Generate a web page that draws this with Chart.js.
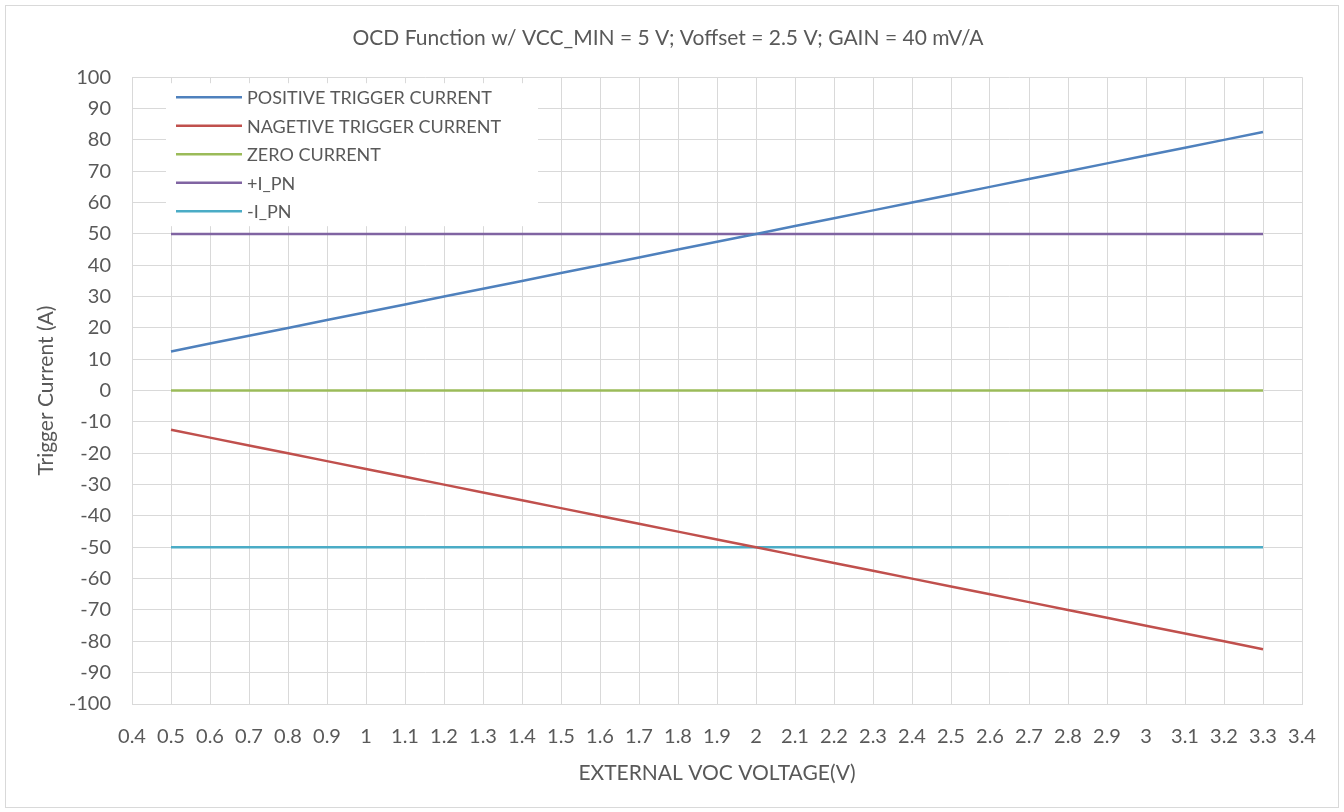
<!DOCTYPE html>
<html>
<head>
<meta charset="utf-8">
<script src="https://cdn.jsdelivr.net/npm/chart.js@4.4.1/dist/chart.umd.min.js"></script>
<style>
  body { margin: 0; background: #fff; }
  #wrap { width: 1344px; height: 812px; }
</style>
</head>
<body>
<div id="wrap"><canvas id="myChart" width="1344" height="812"></canvas></div>
<script>
// x axis categories (V)
let voltages = ['0.4','0.5','0.6','0.7','0.8','0.9','1','1.1','1.2','1.3','1.4','1.5','1.6','1.7','1.8','1.9',
                '2','2.1','2.2','2.3','2.4','2.5','2.6','2.7','2.8','2.9','3','3.1','3.2','3.3','3.4']

// trigger current (A), null where no point was plotted
let positive = [null, 12.5, 15, 17.5, 20, 22.5, 25, 27.5, 30, 32.5, 35, 37.5, 40, 42.5, 45, 47.5,
                50, 52.5, 55, 57.5, 60, 62.5, 65, 67.5, 70, 72.5, 75, 77.5, 80, 82.5, null]
let negative = [null, -12.5, -15, -17.5, -20, -22.5, -25, -27.5, -30, -32.5, -35, -37.5, -40, -42.5, -45, -47.5,
                -50, -52.5, -55, -57.5, -60, -62.5, -65, -67.5, -70, -72.5, -75, -77.5, -80, -82.5, null]
let zero = [null, 0, 0, 0, 0, 0, 0, 0, 0, 0, 0, 0, 0, 0, 0, 0,
            0, 0, 0, 0, 0, 0, 0, 0, 0, 0, 0, 0, 0, 0, null]
let plusIpn = [null, 50, 50, 50, 50, 50, 50, 50, 50, 50, 50, 50, 50, 50, 50, 50,
               50, 50, 50, 50, 50, 50, 50, 50, 50, 50, 50, 50, 50, 50, null]
let minusIpn = [null, -50, -50, -50, -50, -50, -50, -50, -50, -50, -50, -50, -50, -50, -50, -50,
                -50, -50, -50, -50, -50, -50, -50, -50, -50, -50, -50, -50, -50, -50, null]

let seriesNames = ['POSITIVE TRIGGER CURRENT', 'NAGETIVE TRIGGER CURRENT', 'ZERO CURRENT', '+I_PN', '-I_PN']
let seriesColors = ['#4f81bd', '#c0504d', '#9bbb59', '#8064a2', '#4bacc6']

let textColor = '#595959'
let fontName = 'Lato, "Open Sans", sans-serif'

// white frame with thin grey border like the excel chart
const frame = {
    id: 'frame',
    beforeDraw(chart) {
        let ctx = chart.ctx
        ctx.save()
        ctx.fillStyle = '#fff'
        ctx.fillRect(0, 0, chart.width, chart.height)
        ctx.strokeStyle = '#d9d9d9'
        ctx.lineWidth = 1
        ctx.strokeRect(5.5, 5.5, chart.width - 11, chart.height - 10)
        ctx.restore()
    }
}

// legend sits inside the plot area, top left
const innerLegend = {
    id: 'innerLegend',
    afterDatasetsDraw(chart) {
        let ctx = chart.ctx
        let area = chart.chartArea
        let x0 = area.left + 34
        let y0 = area.top + 6
        ctx.save()
        ctx.fillStyle = '#fff'
        ctx.fillRect(x0, y0, 372, 143)
        ctx.font = '18px ' + fontName
        ctx.textBaseline = 'middle'
        chart.data.datasets.forEach(function (ds, i) {
            let y = y0 + 14 + i * 28.5
            ctx.strokeStyle = ds.borderColor
            ctx.lineWidth = 2.5
            ctx.beginPath()
            ctx.moveTo(x0 + 10, y)
            ctx.lineTo(x0 + 76, y)
            ctx.stroke()
            ctx.fillStyle = textColor
            ctx.fillText(ds.label, x0 + 81, y + 1)
        })
        ctx.restore()
    }
}

let datasets = [positive, negative, zero, plusIpn, minusIpn].map(function (vals, i) {
    return {
        label: seriesNames[i],
        data: vals,
        borderColor: seriesColors[i],
        backgroundColor: seriesColors[i],
        borderWidth: 2.5,
        pointRadius: 0,
        tension: 0,
        spanGaps: false
    }
})

let myChart = new Chart(document.getElementById('myChart'), {
    type: 'line',
    data: { labels: voltages, datasets: datasets },
    options: {
        responsive: false,
        animation: false,
        layout: { padding: { left: 34, right: 42, top: 0, bottom: 26 } },
        plugins: {
            legend: { display: false },
            tooltip: { enabled: false },
            title: {
                display: true,
                text: 'OCD Function w/ VCC_MIN = 5 V; Voffset = 2.5 V; GAIN = 40 mV/A',
                color: textColor,
                font: { family: fontName, size: 21, weight: 'normal' },
                padding: { top: 26, bottom: 26 }
            }
        },
        scales: {
            x: {
                type: 'category',
                offset: false,
                grid: { color: '#d9d9d9', drawTicks: false },
                border: { color: '#d9d9d9' },
                ticks: {
                    color: textColor,
                    autoSkip: false,
                    maxRotation: 0,
                    padding: 21,
                    font: { family: fontName, size: 20 }
                },
                title: {
                    display: true,
                    text: 'EXTERNAL VOC VOLTAGE(V)',
                    color: textColor,
                    font: { family: fontName, size: 21 },
                    padding: { top: 10, bottom: 0 }
                },
                afterFit(scale) { scale.height = 82 }
            },
            y: {
                min: -100,
                max: 100,
                grid: { color: '#d9d9d9', drawTicks: false },
                border: { color: '#d9d9d9' },
                ticks: {
                    stepSize: 10,
                    color: textColor,
                    padding: 21,
                    font: { family: fontName, size: 20 }
                },
                title: {
                    display: true,
                    text: 'Trigger Current (A)',
                    color: textColor,
                    font: { family: fontName, size: 21 },
                    padding: 0
                },
                afterFit(scale) { scale.width = 98 }
            }
        }
    },
    plugins: [frame, innerLegend]
})
</script>
</body>
</html>
